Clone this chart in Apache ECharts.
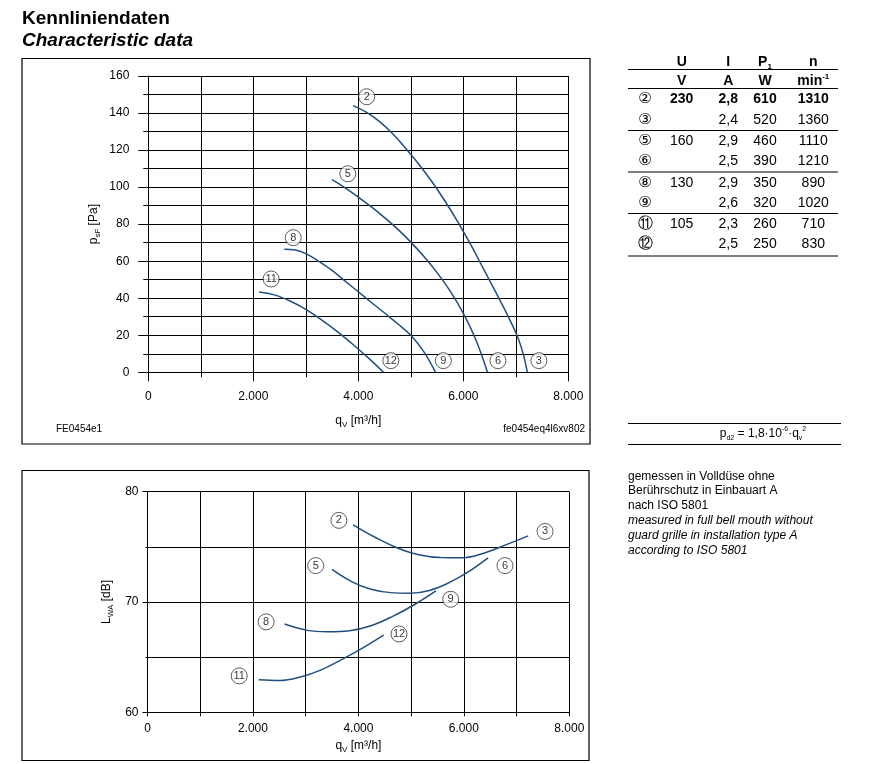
<!DOCTYPE html>
<html><head><meta charset="utf-8">
<script src="https://cdn.jsdelivr.net/npm/echarts@6/dist/echarts.min.js"></script>
<style>html,body{margin:0;padding:0;background:#fff}#c{width:887px;height:764px}</style>
</head><body><div id="c"></div>
<script>
const FONT = "'Liberation Sans', Arial, Helvetica, sans-serif";
const CURVE = '#1f4f80';

// ---- Top chart: static pressure p_sF [Pa] vs q_V [m3/h]
const pressure2to3 = [[3900,144],[4150,140.5],[4400,135.5],[4650,129],[4900,121],[5150,112.5],[5400,103],[5650,92.5],[5900,81],[6150,68.5],[6400,55],[6650,41.5],[6900,27.5],[7050,18],[7150,9],[7220,0]];
const pressure5to6 = [[3500,104],[3750,99.6],[4000,94.6],[4250,89.3],[4500,83.5],[4750,77.3],[5000,70.3],[5250,62.5],[5500,53.8],[5750,43.8],[6000,31.8],[6250,16.8],[6460,0]];
const pressure8to9 = [[2590,66.5],[2800,66.1],[3000,64.1],[3250,59.9],[3500,55],[3750,49.2],[4000,43.5],[4250,37.7],[4500,32],[4750,26.2],[5000,20],[5250,11],[5470,0]];
const pressure11to12 = [[2110,43.3],[2400,41.8],[2700,38.5],[3000,34],[3300,28.3],[3600,22],[3900,15],[4200,7.5],[4480,0]];
const pressureMarkers = [
  ['2',4160,148.8],['5',3800,107.2],['8',2760,72.7],['11',2340,50.4],
  ['12',4620,6.3],['9',5620,6.3],['6',6660,6.3],['3',7440,6.3]
];

// ---- Bottom chart: sound power L_WA [dB] vs q_V [m3/h]
const noise2to3 = [[3900,77],[4315,75.87],[4730,74.92],[5145,74.28],[5560,74.03],[5975,74.02],[6390,74.45],[6805,75.2],[7220,76.0]];
const noise5to6 = [[3500,72.95],[3870,71.85],[4240,71.15],[4610,70.85],[4980,70.8],[5350,71.05],[5720,71.75],[6090,72.75],[6460,74.0]];
const noise8to9 = [[2600,68.0],[3010,67.45],[3420,67.3],[3830,67.4],[4240,67.85],[4650,68.7],[5060,69.75],[5470,71.0]];
const noise11to12 = [[2110,62.95],[2505,62.88],[2900,63.2],[3295,63.85],[3690,64.8],[4085,65.85],[4480,67.0]];
const noiseMarkers = [
  ['2',3630,77.4],['3',7540,76.4],['5',3190,73.3],['6',6780,73.3],
  ['8',2250,68.2],['9',5750,70.25],['12',4770,67.1],['11',1740,63.3]
];

// ---- Table
const tableIds = ['②','③','⑤','⑥','⑧','⑨','⑪','⑫'];
const tableU = ['230','','160','','130','','105',''];
const tableI = ['2,8','2,4','2,9','2,5','2,9','2,6','2,3','2,5'];
const tableP = ['610','520','460','390','350','320','260','250'];
const tableN = ['1310','1360','1110','1210','890','1020','710','830'];
const noteLines = [
  ['gemessen in Volldüse ohne', false],
  ['Berührschutz in Einbauart A', false],
  ['nach ISO 5801', false],
  ['measured in full bell mouth without', true],
  ['guard grille in installation type A', true],
  ['according to ISO 5801', true]
];

const fmtQ = v => v === 0 ? '0' : (v/1000).toFixed(0) + '.000';
const black = {color:'#000', width:1};
const nameRich = {
  a:{fontSize:12, fontFamily:FONT, color:'#000', lineHeight:16, verticalAlign:'middle'},
  s:{fontSize:8, fontFamily:FONT, color:'#000', lineHeight:16, verticalAlign:'bottom'}
};

function xAxisCfg(gridIndex, tickLen, minorLen, labelMargin, nameGap) {
  return {
    type:'value', gridIndex, min:0, max:8000, interval:2000,
    axisLine:{show:true, lineStyle:black},
    axisTick:{show:true, length:tickLen, lineStyle:black},
    minorTick:{show:true, splitNumber:2, length:minorLen, lineStyle:black},
    splitLine:{show:true, lineStyle:black},
    minorSplitLine:{show:true, lineStyle:black},
    axisLabel:{formatter:fmtQ, fontSize:12, fontFamily:FONT, color:'#000', margin:labelMargin},
    name:'{a|q}{s|V}{a| [m³/h]}', nameLocation:'middle', nameGap,
    nameTextStyle:{rich:nameRich}
  };
}

const series = [];
function addCurve(data, xi, yi) {
  series.push({type:'line', xAxisIndex:xi, yAxisIndex:yi, data, smooth:0.4, showSymbol:false,
    lineStyle:{color:CURVE, width:1.5}, silent:true, z:3});
}
[pressure2to3, pressure5to6, pressure8to9, pressure11to12].forEach(d => addCurve(d,0,0));
[noise2to3, noise5to6, noise8to9, noise11to12].forEach(d => addCurve(d,1,1));
function addMarkers(list, xi, yi) {
  series.push({type:'scatter', xAxisIndex:xi, yAxisIndex:yi, symbol:'circle', symbolSize:16, z:5,
    data:list.map(m => ({name:m[0], value:[m[1], m[2]]})),
    itemStyle:{color:'#fff', borderColor:'#000', borderWidth:0.8},
    label:{show:true, position:'inside', formatter:'{b}', color:'#000', fontSize:11, fontFamily:FONT},
    silent:true});
}
addMarkers(pressureMarkers,0,0);
addMarkers(noiseMarkers,1,1);

// ---- graphic (frames, title, table, notes)
const g = [];
const txt = (text, x, y, o={}) => g.push({type:'text', silent:true, style:Object.assign({
  text, x, y, fill:'#000', fontSize:14, fontFamily:FONT, align:'center', verticalAlign:'middle'}, o)});
const line = (x1,y1,x2,y2,w=1) => g.push({type:'line', silent:true, shape:{x1,y1,x2,y2}, style:{stroke:'#000', lineWidth:w}});

g.push({type:'rect', silent:true, shape:{x:22, y:58.5, width:568, height:385.5}, style:{fill:'none', stroke:'#000', lineWidth:1.2}});
g.push({type:'rect', silent:true, shape:{x:22, y:470.5, width:567, height:290}, style:{fill:'none', stroke:'#000', lineWidth:1.2}});

txt('Kennliniendaten', 22, 18.5, {align:'left', fontSize:19, fontWeight:'bold'});
txt('Characteristic data', 22, 40.5, {align:'left', fontSize:19, fontWeight:'bold', fontStyle:'italic'});
txt('FE0454e1', 56, 429, {align:'left', fontSize:10});
txt('fe0454eq4l6xv802', 585, 429, {align:'right', fontSize:10});

const colX = [645, 681.7, 728.3, 765, 813.3];
const headRich = {
  a:{fontSize:14, fontWeight:'bold', fontFamily:FONT, color:'#000', lineHeight:18, verticalAlign:'middle'},
  s:{fontSize:8, fontWeight:'bold', fontFamily:FONT, color:'#000', lineHeight:18, verticalAlign:'bottom'},
  p:{fontSize:8, fontWeight:'bold', fontFamily:FONT, color:'#000', lineHeight:18, verticalAlign:'top'}
};
txt('U', colX[1], 61.7, {fontWeight:'bold'});
txt('I', colX[2], 61.7, {fontWeight:'bold'});
txt('{a|P}{s|1}', colX[3], 61.7, {rich:headRich});
txt('n', colX[4], 61.7, {fontWeight:'bold'});
txt('V', colX[1], 81.5, {fontWeight:'bold'});
txt('A', colX[2], 81.5, {fontWeight:'bold'});
txt('W', colX[3], 81.5, {fontWeight:'bold'});
txt('{a|min}{p|-1}', colX[4], 81.5, {rich:headRich});
line(628, 69.5, 838, 69.5);
line(628, 88.5, 838, 88.5);
const rowY = [99.3,120,140.7,161.3,182.7,203.3,224,244];
tableIds.forEach((id,i) => {
  const bold = i === 0 ? 'bold' : 'normal';
  txt(id, colX[0], rowY[i], {fontFamily:"'DejaVu Sans', " + FONT, fontSize:15});
  txt(tableU[i], colX[1], rowY[i], {fontWeight:bold});
  txt(tableI[i], colX[2], rowY[i], {fontWeight:bold});
  txt(tableP[i], colX[3], rowY[i], {fontWeight:bold});
  txt(tableN[i], colX[4], rowY[i], {fontWeight:bold});
});
[130.5, 172, 213.5, 256].forEach(y => line(628, y, 838, y));

line(628, 423.5, 841, 423.5);
line(628, 444.5, 841, 444.5);
const pdRich = {
  a:{fontSize:12, fontFamily:FONT, color:'#000', lineHeight:16, verticalAlign:'middle'},
  s:{fontSize:7, fontFamily:FONT, color:'#000', lineHeight:16, verticalAlign:'bottom'},
  p:{fontSize:7, fontFamily:FONT, color:'#000', lineHeight:16, verticalAlign:'top'}
};
txt('{a|p}{s|d2}{a| = 1,8·10}{p|-6}{a|·q}{s|v}{p|2}', 763, 434, {rich:pdRich});

const noteY = [476.7, 491, 505.5, 521, 535.7, 550.3];
noteLines.forEach((n,i) => txt(n[0], 628, noteY[i], {align:'left', fontSize:12, fontStyle:n[1]?'italic':'normal'}));

const option = {
  animation:false,
  backgroundColor:'#fff',
  grid:[
    {left:148.3, right:318.7, top:76, bottom:391.7},
    {left:147.5, right:317.7, top:491.7, bottom:51.7}
  ],
  xAxis:[xAxisCfg(0, 9, 5, 18, 40), xAxisCfg(1, 4, 4, 10, 25)],
  yAxis:[
    {type:'value', gridIndex:0, min:0, max:160, interval:20,
     axisLine:{show:true, lineStyle:black},
     axisTick:{show:true, length:10, lineStyle:black},
     minorTick:{show:true, splitNumber:2, length:5, lineStyle:black},
     splitLine:{show:true, lineStyle:black},
     minorSplitLine:{show:true, lineStyle:black},
     axisLabel:{fontSize:12, fontFamily:FONT, color:'#000', margin:19},
     name:'{a|p}{s|sF}{a| [Pa]}', nameLocation:'middle', nameGap:47, nameRotate:90,
     nameTextStyle:{rich:nameRich}},
    {type:'value', gridIndex:1, min:60, max:80, interval:10,
     axisLine:{show:true, lineStyle:black},
     axisTick:{show:true, length:5, lineStyle:black},
     minorTick:{show:true, splitNumber:2, length:2, lineStyle:black},
     splitLine:{show:true, lineStyle:black},
     minorSplitLine:{show:true, lineStyle:black},
     axisLabel:{fontSize:12, fontFamily:FONT, color:'#000', margin:9},
     name:'{a|L}{s|WA}{a| [dB]}', nameLocation:'middle', nameGap:33, nameRotate:90,
     nameTextStyle:{rich:nameRich}}
  ],
  series,
  graphic:{elements:g}
};
const chart = echarts.init(document.getElementById('c'));
chart.setOption(option);
</script></body></html>
